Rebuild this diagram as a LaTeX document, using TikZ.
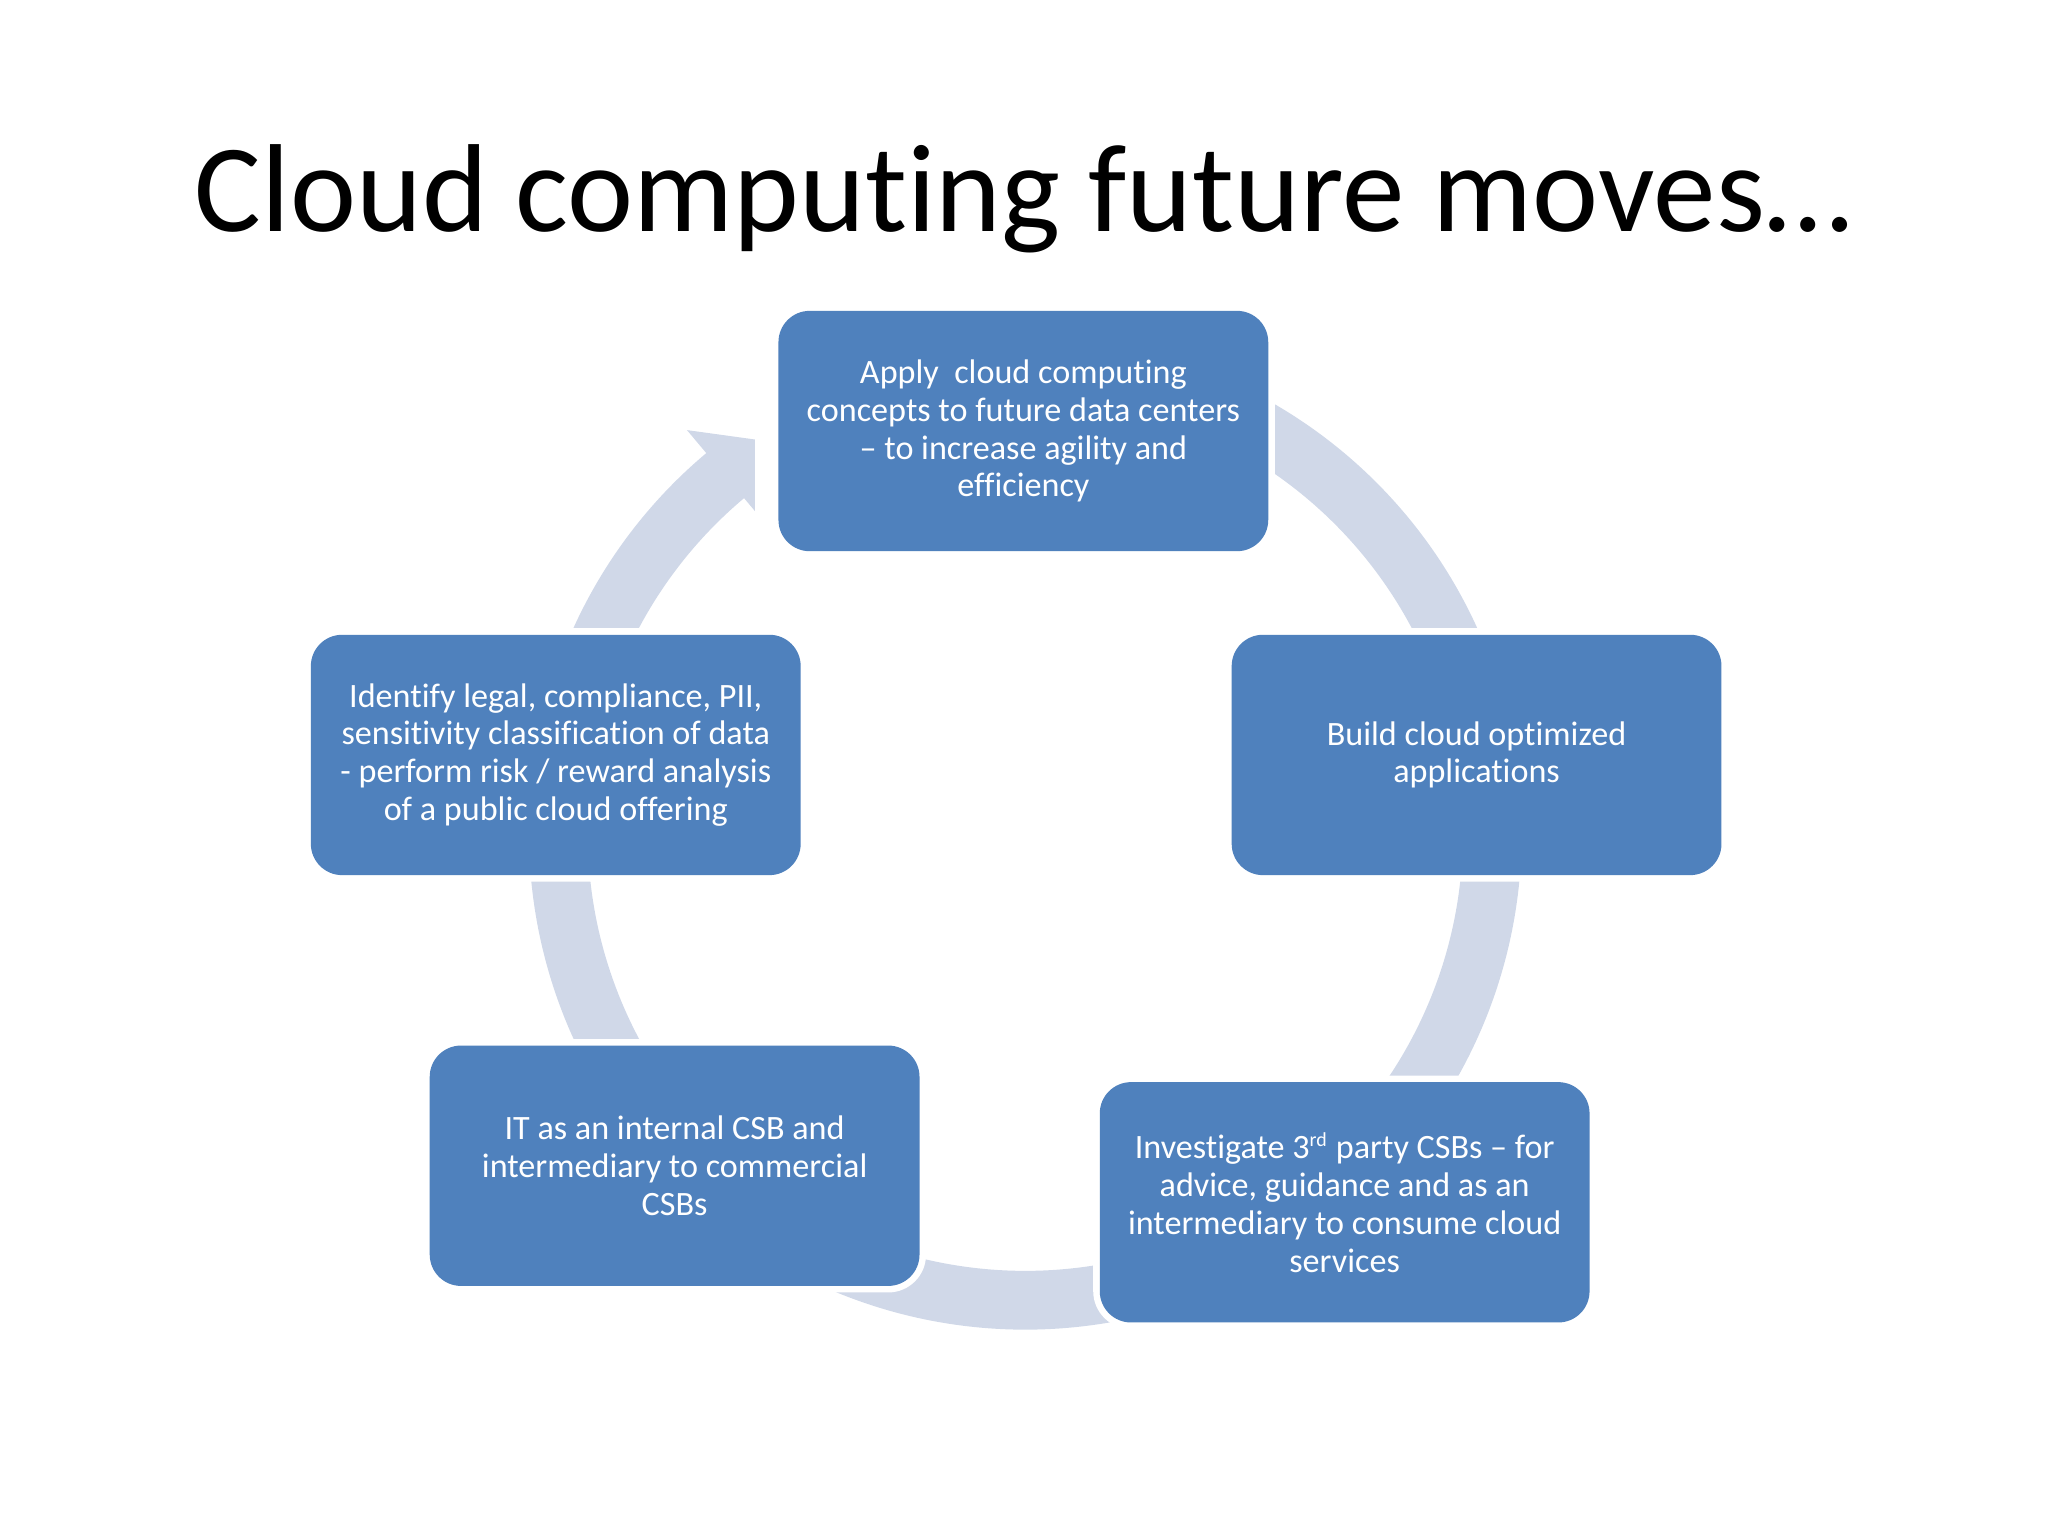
\documentclass[tikz,border=0pt]{standalone}
\usepackage{fontspec}
\setmainfont{Carlito}[Ligatures=NoCommon]
\definecolor{boxblue}{HTML}{4F81BD}
\definecolor{ringcol}{HTML}{D0D8E8}
\begin{document}
\begin{tikzpicture}[x=0.4592pt,y=-0.4592pt,
  cyclebox/.style={rectangle, rounded corners=11pt, fill=boxblue,
    preaction={draw=white, line width=4.6pt},
    minimum width=172.2pt, minimum height=84.5pt, inner sep=0pt,
    text=white, align=center, font=\fontsize{12}{13.3}\selectfont},
  ringfill/.style={fill=ringcol}]
\useasboundingbox (0,0) rectangle (1568,1176);
\coordinate (C) at (785,638);
\def\Ro{380}
\def\Ri{335}
% ring segments
\foreach \a/\b in {-70/-20, -5/60, 60/120, 120/185}{
  \fill[ringfill] ([shift={(C)}]\a:\Ro) arc[start angle=\a, end angle=\b, radius=\Ro]
    -- ([shift={(C)}]\b:\Ri) arc[start angle=\b, end angle=\a, radius=\Ri] -- cycle;
}
\begin{scope}
  \clip (0,0) rectangle (578,1176);
  \fill[ringfill] ([shift={(C)}]185:\Ro) arc[start angle=185, end angle=230, radius=\Ro]
    -- ([shift={(C)}]230:403) -- ([shift={(C)}]237:357.5) -- ([shift={(C)}]230:312)
    -- ([shift={(C)}]230:\Ri) arc[start angle=230, end angle=185, radius=\Ri] -- cycle;
\end{scope}
% title
\node[anchor=base, inner sep=0pt, font=\fontsize{44}{52}\selectfont] (title) at (783.5,177.4) {Cloud computing future moves…};
% boxes
\node[cyclebox] (top) at (783.5,330) {Apply\ \ cloud computing\\concepts to future data centers\\– to increase agility and\\efficiency};
\node[cyclebox] (right) at (1130.5,578) {Build cloud optimized\\applications};
\node[cyclebox] (brt) at (1029.5,920.5) {Investigate 3\textsuperscript{\scriptsize rd} party CSBs – for\\advice, guidance and as an\\intermediary to consume cloud\\services};
\node[cyclebox] (blf) at (516.5,892.5) {IT as an internal CSB and\\intermediary to commercial\\CSBs};
\node[cyclebox] (left) at (425.5,578) {Identify legal, compliance, PII,\\sensitivity classification of data\\- perform risk / reward analysis\\of a public cloud offering};
\end{tikzpicture}
\end{document}
